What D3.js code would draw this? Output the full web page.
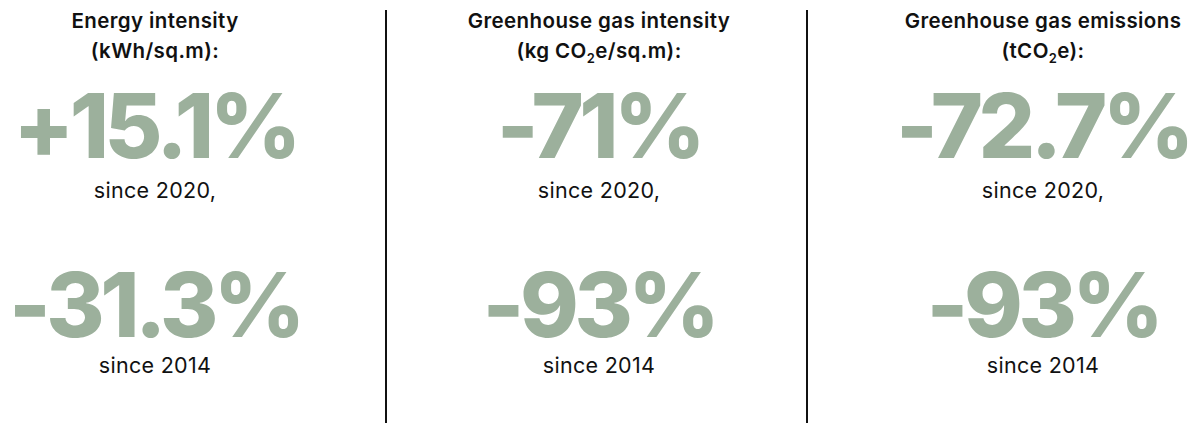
<!DOCTYPE html>
<html>
<head>
<meta charset="utf-8">
<script src="https://cdn.jsdelivr.net/npm/d3@7"></script>
<style>
  html, body { margin: 0; padding: 0; background: #fff; }
  svg { display: block; }
</style>
</head>
<body>
<div id="viz-container"></div>
<script>
// metrics
let titles = ['Energy intensity', 'Greenhouse gas intensity', 'Greenhouse gas emissions'];
// unit line, split so the "2" can be a subscript
let units = [
  ['(kWh/sq.m):'],
  ['(kg CO', '2', 'e/sq.m):'],
  ['(tCO', '2', 'e):']
];
let since2020 = ['+15.1%', '-71%', '-72.7%'];
let since2014 = ['-31.3%', '-93%', '-93%'];
let periods = ['since 2020,', 'since 2014'];

let green = '#9cb09c';
let ink = '#111';

let W = 1201, H = 423;

let svg = d3.select('#viz-container')
  .append('svg')
    .attr('width', W)
    .attr('height', H);

// column centres
let x = d3.scalePoint()
  .domain(titles)
  .range([155, 1043]);

// vertical rows (baselines)
let y = d3.scaleOrdinal()
  .domain(['title', 'unit', 'big1', 'lab1', 'big2', 'lab2'])
  .range([28, 58, 158, 198, 337, 373]);

// dividers
let dividers = [386, 807];
svg.selectAll('.divider').data(dividers).enter()
  .append('line')
    .attr('class', 'divider')
    .attr('x1', d => d).attr('x2', d => d)
    .attr('y1', 10).attr('y2', H)
    .attr('stroke', ink)
    .attr('stroke-width', 2);

let col = svg.selectAll('.col').data(titles).enter()
  .append('g')
    .attr('class', 'col')
    .attr('transform', d => 'translate(' + x(d) + ',0)');

col.append('text')
  .attr('y', y('title'))
  .attr('text-anchor', 'middle')
  .attr('font-family', 'Inter, sans-serif')
  .attr('font-weight', 600)
  .attr('font-size', 20.5)
  .attr('letter-spacing', 0.4)
  .attr('fill', ink)
  .text(d => d);

let u = col.append('text')
  .attr('y', y('unit'))
  .attr('text-anchor', 'middle')
  .attr('font-family', 'Inter, sans-serif')
  .attr('font-weight', 600)
  .attr('font-size', 20.5)
  .attr('letter-spacing', 0.4)
  .attr('fill', ink);

u.each(function(d, i) {
  let t = d3.select(this);
  units[i].forEach(function(part, j) {
    let sub = part === '2';
    t.append('tspan')
      .attr('font-size', sub ? 13 : 20.5)
      .attr('dy', sub ? 5 : (j > 0 ? -5 : 0))
      .text(part);
  });
});

function bigNumber(vals, row) {
  col.append('text')
    .attr('y', y(row))
    .attr('text-anchor', 'middle')
    .attr('font-family', 'Inter, sans-serif')
    .attr('font-weight', 800)
    .attr('font-size', 89)
    .attr('letter-spacing', -4.5)
    .attr('fill', green)
    .text((d, i) => vals[i]);
}

function label(txt, row) {
  col.append('text')
    .attr('y', y(row))
    .attr('text-anchor', 'middle')
    .attr('font-family', 'Inter, sans-serif')
    .attr('font-weight', 400)
    .attr('font-size', 21.5)
    .attr('letter-spacing', 0.3)
    .attr('fill', ink)
    .text(txt);
}

bigNumber(since2020, 'big1');
label(periods[0], 'lab1');
bigNumber(since2014, 'big2');
label(periods[1], 'lab2');
</script>
</body>
</html>
